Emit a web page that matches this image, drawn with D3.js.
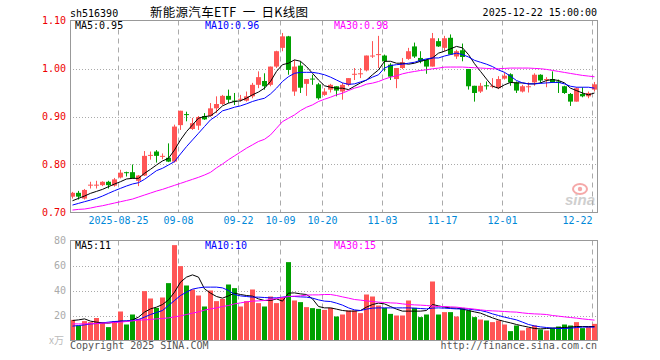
<!DOCTYPE html>
<html>
<head>
<meta charset="utf-8">
<script src="https://cdn.jsdelivr.net/npm/d3@7/dist/d3.min.js"></script>
<style>
  body { margin: 0; background: #fff; }
  text { font-family: "DejaVu Sans Mono", monospace; font-size: 10px; }
</style>
</head>
<body>
<div id="chart"></div>
<script>
// trading days shown on the chart
const dates = [
  "08-13","08-14","08-15","08-18","08-19","08-20","08-21","08-22","08-25","08-26","08-27","08-28","08-29",
  "09-01","09-02","09-03","09-04","09-05","09-08","09-09","09-10","09-11","09-12","09-15","09-16","09-17","09-18","09-19",
  "09-22","09-23","09-24","09-25","09-26","09-29","09-30",
  "10-09","10-10","10-13","10-14","10-15","10-16","10-17","10-20","10-21","10-22","10-23","10-24","10-27","10-28","10-29","10-30","10-31",
  "11-03","11-04","11-05","11-06","11-07","11-10","11-11","11-12","11-13","11-14","11-17","11-18","11-19","11-20","11-21","11-24","11-25","11-26","11-27","11-28",
  "12-01","12-02","12-03","12-04","12-05","12-08","12-09","12-10","12-11","12-12","12-15","12-16","12-17","12-18","12-19","12-22"
];

const open = [.733,.741,.729,.756,.757,.757,.764,.756,.773,.784,.784,.766,.777,.819,.827,.817,.814,.806,.882,.905,
  .874,.881,.901,.901,.917,.926,.943,.933,.935,.933,.942,.966,.974,.966,1.004,1.043,1.067,.952,1.006,.968,
  .979,.967,.945,.956,.963,.952,.966,.987,.990,.996,1.026,1.029,1.027,1.008,.978,1.001,1.020,1.046,1.022,1.018,
  1.004,1.057,1.043,1.064,1.025,1.038,.999,.964,.952,.965,.963,.959,.979,.988,.971,.952,.962,.971,.987,.9775,
  .978,.973,.963,.947,.931,.947,.942,.956];
const high = [.743,.745,.749,.764,.766,.765,.766,.772,.789,.785,.800,.778,.828,.827,.830,.823,.844,.883,.912,.910,
  .897,.901,.907,.928,.942,.945,.956,.949,.945,.952,.970,.994,.990,1.004,1.037,1.074,1.068,1.018,1.015,.978,
  .987,.970,.959,.968,.963,.970,.980,1.001,1.001,1.027,1.057,1.068,1.029,1.011,1.001,1.022,1.043,1.054,1.036,1.020,
  1.074,1.063,1.068,1.071,1.039,1.052,.999,.964,.970,.973,.980,.984,.992,.990,.973,.966,.971,.990,.988,.982,
  .994,.977,.964,.949,.961,.961,.952,.972];
const low = [.729,.727,.727,.750,.750,.755,.750,.754,.771,.775,.771,.755,.776,.810,.804,.811,.805,.804,.872,.890,
  .872,.872,.893,.900,.907,.924,.928,.924,.931,.931,.938,.959,.956,.963,1.001,1.036,.987,.943,.949,.943,
  .966,.935,.943,.950,.942,.935,.963,.976,.980,.994,1.022,1.001,.994,.976,.959,.999,1.018,1.022,1.011,.989,
  1.004,1.045,1.036,1.029,1.020,1.015,.956,.931,.949,.956,.959,.957,.977,.964,.949,.950,.950,.964,.970,.961,
  .970,.949,.947,.922,.931,.940,.938,.952];
const close = [.741,.733,.747,.758,.758,.764,.757,.769,.783,.783,.771,.777,.818,.820,.818,.818,.806,.879,.912,.904,
  .886,.899,.894,.917,.926,.943,.935,.932,.937,.942,.966,.982,.963,1.004,1.036,1.067,.997,1.004,.960,.978,
  .978,.938,.952,.966,.954,.966,.980,.989,.990,1.027,1.027,1.030,1.015,.983,1.001,1.013,1.036,1.025,1.015,1.004,
  1.063,1.046,1.063,1.029,1.036,1.024,.963,.949,.964,.964,.964,.978,.985,.971,.954,.963,.963,.987,.975,.978,
  .971,.970,.949,.931,.959,.942,.949,.967];

// price moving averages as drawn
const ma5 = [.7245,.7294,.7343,.7399,.7440,.7482,.7538,.7593,.7642,.7698,.7712,.7712,.7816,.7900,.7990,.8074,.8129,.8303,.8512,.8686,
  .8825,.8965,.8999,.9013,.9104,.9222,.9278,.9313,.9327,.9382,.9452,.951,.959,.973,.994,1.008,1.011,1.018,1.015,1.004,
  .990,.976,.964,.961,.959,.959,.956,.963,.970,.976,.987,.997,1.015,1.015,1.011,1.011,1.009,1.011,1.015,1.018,
  1.022,1.032,1.036,1.041,1.046,1.043,1.029,1.010,.994,.978,.963,.959,.966,.971,.970,.970,.968,.968,.970,.975,
  .977,.975,.970,.959,.954,.949,.945,.949];
const ma10 = [.7155,.7190,.7225,.7259,.7294,.7343,.7399,.7454,.7503,.7552,.7594,.7621,.7691,.7781,.7872,.7921,.7990,.8060,.8220,.8373,
  .8512,.8651,.8791,.8930,.9013,.9118,.9153,.9194,.9222,.9264,.9313,.935,.938,.947,.959,.973,.983,.990,.992,.992,
  .992,.990,.987,.982,.976,.970,.967,.968,.972,.976,.982,.987,1.001,1.006,1.008,1.009,1.011,1.013,1.017,1.020,
  1.022,1.022,1.026,1.029,1.032,1.029,1.024,1.017,1.013,1.009,1.004,.997,.992,.984,.975,.970,.968,.968,.969,.970,
  .971,.971,.968,.963,.961,.961,.961,.959];
const ma30 = [.7051,.7065,.7072,.7093,.7120,.7141,.7169,.7197,.7225,.7252,.7280,.7322,.7364,.7405,.7447,.7482,.7524,.7566,.7607,.7649,
  .7691,.7733,.7781,.7837,.793,.801,.810,.818,.826,.834,.841,.848,.8525,.8616,.8755,.8894,.8964,.9033,.9124,.9193,
  .9242,.9312,.9360,.9402,.9451,.9486,.9541,.9590,.9625,.9674,.9695,.9729,.9778,.982,.9848,.9889,.9917,.9938,.9959,.9973,
  .9994,1.0008,1.0029,1.003,1.003,1.003,1.0023,1.0016,1.0009,1.0002,.9995,.9995,1.0002,1.0009,1.0009,1.0009,1.0009,1.0002,.9995,.9981,
  .996,.9939,.9918,.9897,.9876,.9856,.9842,.9828];

// volume (万手)
const volume = [16.5,12,15.5,14.7,18,14.7,10.7,15.5,23.2,12.8,20.8,17.3,39.5,33.6,26.1,34.4,45.9,76.3,59.5,44,
  40.8,36,27.2,40,31.5,33.3,44.8,41.9,27.2,31.5,40.8,29.9,27.2,35.2,29.9,34.7,62.7,32,30.7,26.7,
  25.9,25.3,24.5,26.1,19.2,20.8,24,24,21.9,36.8,35.2,28,26.1,21.3,20,20,32,26.1,18.7,20.8,
  47.2,20.8,22.7,22.7,19.2,26.1,24,18.7,16.8,16,14.7,16,12.8,7.5,12,8,10.1,12,8.8,8,
  10.1,11.2,12.8,12,14.7,9.9,11.2,13.3];
const vma5 = [16,16.5,17.3,15.5,14.7,14.1,13.9,14.7,15.5,15.5,16.5,18.7,22.7,25.3,26.7,28.8,32.5,38.7,46.7,50.7,
  52.5,50.7,41.3,37.9,35.2,33.9,35.7,37.9,36.8,36,35.5,33.3,32,32,33.3,31.5,37.9,38.1,37.3,36.8,
  33.3,27.2,26.1,26.1,25.1,24,23.5,23.5,24,26.7,28.8,29.9,29.3,27.2,25.1,23.5,23.5,23.5,23.5,24,
  28.8,27.7,26.7,26.1,25.9,25.1,24,22.9,21.9,20,18.1,16.5,15.2,14.1,12.8,11.7,10.7,9.6,9.3,9.6,
  9.9,10.1,10.4,10.7,11.2,11.2,11.2,11.2];
const vma10 = [11.5,12,12.5,13.3,13.6,14.1,14.7,15.2,15.5,15.7,16,16.8,18.7,20.8,22.4,24,28,32,36,38.7,
  41.1,42.1,42.7,42.7,42.7,42.1,40,36.8,35.7,35.2,34.7,34.7,34.4,34.1,34.1,34.7,35.2,35.2,34.9,34.7,
  33.9,32.5,31.5,31.2,29.9,28.3,26.1,24.5,24,25.1,25.9,26.1,26.1,26.1,26.1,26.1,26.1,25.9,25.6,25.3,
  25.9,26.1,25.9,25.6,25.3,25.3,25.1,24.5,24,22.9,21.3,20,18.7,17.6,16.5,14.7,12.8,11.7,10.9,10.4,
  9.9,9.6,9.6,9.9,10.4,10.7,10.7,10.7];
const vma30 = [13.3,13.3,13.3,13.4,13.6,13.9,14.1,14.4,14.7,15.2,15.7,16.3,16.5,16.8,17.3,17.6,18.1,18.9,19.7,20.8,
  21.9,22.9,24.3,25.3,26.1,27.2,28,29.3,30.1,30.9,31.5,31.7,32,32.8,33.6,34.4,35.2,35.5,35.7,36.3,
  36.5,36.5,36.8,36.8,36,34.9,33.9,32.8,32.3,31.7,31.2,30.7,30.4,30.1,29.9,29.3,28.8,28.5,28.3,28,
  27.5,27.2,27.2,26.9,26.7,26.1,25.6,25.1,24.5,24,23.7,23.5,23.2,22.9,22.7,22.1,21.6,21.3,21.1,20.8,
  20,19.5,18.9,18.4,17.9,17.3,16.8,16.3];

const tickDates = ["08-25","09-08","09-22","10-09","10-20","11-03","11-17","12-01","12-22"];
const tickLabels = ["2025-08-25","09-08","09-22","10-09","10-20","11-03","11-17","12-01","12-22"];
const priceTicks = [0.7, 0.8, 0.9, 1.0, 1.1];
const volTicks = [20, 40, 60, 80];
const maLabels = ["MA5:0.95", "MA10:0.96", "MA30:0.98"];
const volMaLabels = ["MA5:11", "MA10:10", "MA30:15"];

const w = 660, h = 360;
const up = "#ff5555", down = "#00a000";
const maColors = ["#000000", "#0000ff", "#ff00ff"];
const gridColor = "#aaaaaa";

const svg = d3.select("#chart").append("svg")
  .attr("width", w).attr("height", h);

const x = d3.scaleLinear().domain([0, dates.length]).range([70, 598]);
const y = d3.scaleLinear().domain([0.7, 1.1]).range([212.5, 20.5]);
const yv = d3.scaleLinear().domain([0, 80]).range([340.5, 240.5]);
const cx = i => x(i) + 2.5;

// header
svg.append("text").attr("x", 70).attr("y", 17).attr("fill", "#000").text("sh516390");
svg.append("text").attr("x", 150).attr("y", 17)
  .style("font-family", "'Noto Sans CJK SC', sans-serif").style("font-size", "12.5px")
  .style("white-space", "pre")
  .attr("textLength", 158).attr("lengthAdjust", "spacing")
  .attr("fill", "#000").text("新能源汽车ETF  一  日K线图");
svg.append("text").attr("x", 597).attr("y", 16).attr("text-anchor", "end")
  .attr("fill", "#000").text("2025-12-22 15:00:00");

// grids
const drawPanel = (yScale, ticks, top, bottom) => {
  svg.append("g").selectAll("line").data(ticks.filter(t => yScale(t) > top + 1 && yScale(t) < bottom - 1))
    .join("line")
    .attr("x1", 70).attr("x2", 597)
    .attr("y1", d => Math.round(yScale(d)) + 0.5).attr("y2", d => Math.round(yScale(d)) + 0.5)
    .attr("stroke", gridColor).attr("stroke-dasharray", "1,2");
  svg.append("g").selectAll("line").data(tickDates)
    .join("line")
    .attr("x1", d => x(dates.indexOf(d)) + 0.5).attr("x2", d => x(dates.indexOf(d)) + 0.5)
    .attr("y1", top).attr("y2", bottom)
    .attr("stroke", gridColor).attr("stroke-dasharray", "5,4");
};
drawPanel(y, priceTicks, 20.5, 212.5);
drawPanel(yv, volTicks, 240.5, 340.5);

// sina watermark
const logo = svg.append("g").attr("opacity", 0.6);
logo.append("ellipse").attr("cx", 580).attr("cy", 189).attr("rx", 7).attr("ry", 5)
  .attr("fill", "none").attr("stroke", "#f07070").attr("stroke-width", 2);
logo.append("circle").attr("cx", 580).attr("cy", 189).attr("r", 2.2).attr("fill", "#f07070");
logo.append("text").attr("x", 565).attr("y", 205)
  .style("font-family", "'Liberation Sans', sans-serif").style("font-size", "15px")
  .style("font-style", "italic").style("font-weight", "bold")
  .attr("fill", "#b0b0b0").text("sina");

// candles
const candles = svg.append("g").selectAll("g").data(dates).join("g");
const col = (d, i) => close[i] >= open[i] ? up : down;
candles.append("line")
  .attr("x1", (d, i) => cx(i)).attr("x2", (d, i) => cx(i))
  .attr("y1", (d, i) => y(high[i])).attr("y2", (d, i) => y(low[i]))
  .attr("stroke", col);
candles.append("rect")
  .attr("x", (d, i) => x(i))
  .attr("width", 5)
  .attr("y", (d, i) => Math.min(y(open[i]), y(close[i])))
  .attr("height", (d, i) => Math.max(1, Math.abs(y(open[i]) - y(close[i]))))
  .attr("fill", col);

// volume bars
svg.append("g").selectAll("rect").data(volume).join("rect")
  .attr("x", (d, i) => x(i))
  .attr("width", 5)
  .attr("y", d => yv(d))
  .attr("height", d => yv(0) - yv(d))
  .attr("fill", (d, i) => col(d, i));

// moving average lines
const priceLine = d3.line().x((d, i) => cx(i)).y(d => y(d));
const volLine = d3.line().x((d, i) => cx(i)).y(d => yv(d));
[ma5, ma10, ma30].forEach((s, k) => {
  svg.append("path").datum(s).attr("d", priceLine)
    .attr("fill", "none").attr("stroke", maColors[k]).attr("stroke-width", 1);
});
[vma5, vma10, vma30].forEach((s, k) => {
  svg.append("path").datum(s).attr("d", volLine)
    .attr("fill", "none").attr("stroke", maColors[k]).attr("stroke-width", 1);
});

// frames
[[20.5, 212.5], [240.5, 340.5]].forEach(([t, b]) => {
  svg.append("rect").attr("x", 70.5).attr("y", t).attr("width", 527).attr("height", b - t)
    .attr("fill", "none").attr("stroke", "#999");
});

// axes
const yAxis = svg.append("g").attr("transform", "translate(70,0)")
  .call(d3.axisLeft(y).tickValues(priceTicks).tickFormat(d3.format(".2f")).tickSize(0).tickPadding(4));
yAxis.select(".domain").remove();
yAxis.selectAll("text").attr("fill", "#ee0000")
  .style("font-family", "'DejaVu Sans Mono', monospace").style("font-size", "10px");

const vAxis = svg.append("g").attr("transform", "translate(70,0)")
  .call(d3.axisLeft(yv).tickValues(volTicks).tickSize(0).tickPadding(4));
vAxis.select(".domain").remove();
vAxis.selectAll("text").attr("fill", "#aaaaaa")
  .style("font-family", "'DejaVu Sans Mono', monospace").style("font-size", "10px");
svg.append("text").attr("x", 49).attr("y", 344).attr("fill", "#bbbbbb")
  .style("font-family", "'Noto Sans CJK SC', sans-serif").style("font-size", "10px").text("x万");

const xAxis = svg.append("g").attr("transform", "translate(0,212)")
  .call(d3.axisBottom(x).tickValues(tickDates.map(d => dates.indexOf(d)))
    .tickFormat((d, i) => tickLabels[i]).tickSize(0).tickPadding(5));
xAxis.select(".domain").remove();
xAxis.selectAll("text").attr("fill", "#0088d8")
  .style("font-family", "'DejaVu Sans Mono', monospace").style("font-size", "10px")
  .attr("text-anchor", (d, i) => i === tickDates.length - 1 ? "end" : "middle");

// MA labels
const labelX = [75, 205, 334];
maLabels.forEach((t, k) => {
  svg.append("text").attr("x", labelX[k]).attr("y", 29).attr("fill", maColors[k]).text(t);
});
volMaLabels.forEach((t, k) => {
  svg.append("text").attr("x", labelX[k]).attr("y", 249).attr("fill", maColors[k]).text(t);
});

// footer
svg.append("text").attr("x", 70).attr("y", 349).attr("fill", "#555").text("Copyright 2025 SINA.COM");
svg.append("text").attr("x", 597).attr("y", 349).attr("text-anchor", "end").attr("fill", "#555")
  .text("http://finance.sina.com.cn");
</script>
</body>
</html>
